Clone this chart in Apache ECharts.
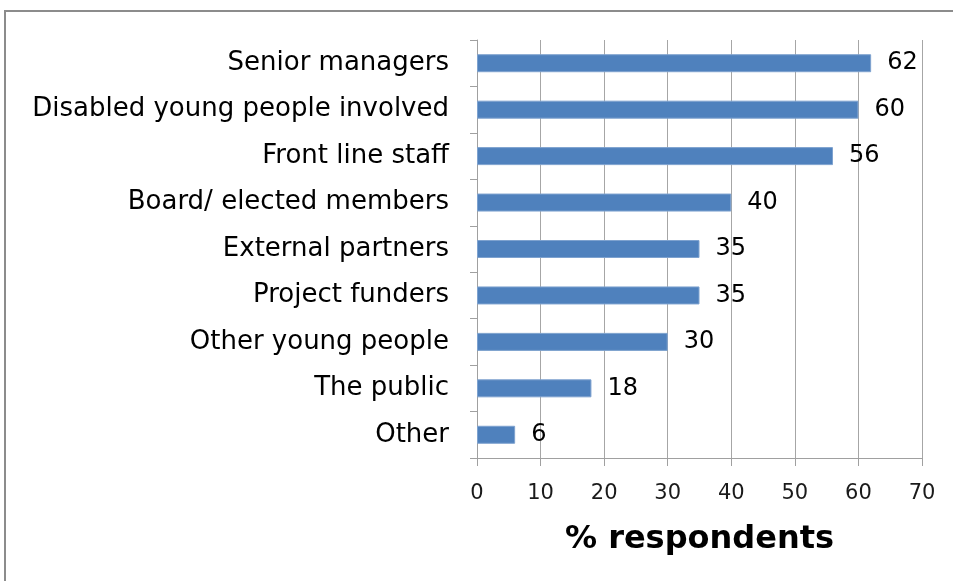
<!DOCTYPE html>
<html>
<head>
<meta charset="utf-8">
<script src="https://cdn.jsdelivr.net/npm/echarts@6/dist/echarts.min.js"></script>
<style>
  html, body { margin: 0; padding: 0; background: #fff; }
  #frame { position: absolute; left: 4px; top: 10px; width: 960px; height: 600px; border: 2px solid #8c8c8c; box-sizing: border-box; }
  #chart { position: absolute; left: 0; top: 0; width: 953px; height: 581px; }
</style>
</head>
<body>
<div id="frame"></div>
<div id="chart"></div>
<script>
// Who the work is reported to, share of respondents (%)
const categories = [
  'Senior managers',
  'Disabled young people involved',
  'Front line staff',
  'Board/ elected members',
  'External partners',
  'Project funders',
  'Other young people',
  'The public',
  'Other'
];
const percentages = [62, 60, 56, 40, 35, 35, 30, 18, 6];
const xTicks = { min: 0, max: 70, step: 10 };

const font = 'DejaVu Sans, Verdana, sans-serif';
const chart = echarts.init(document.getElementById('chart'), null, { renderer: 'canvas' });

chart.setOption({
  animation: false,
  grid: { left: 477, right: 31, top: 40, bottom: 123, containLabel: false },
  xAxis: {
    type: 'value',
    min: xTicks.min,
    max: xTicks.max,
    interval: xTicks.step,
    position: 'bottom',
    axisLine: { show: true, lineStyle: { color: '#a0a0a0', width: 1 } },
    axisTick: { show: true, length: 8, lineStyle: { color: '#a0a0a0' } },
    splitLine: { show: true, lineStyle: { color: '#a6a6a6', width: 1 } },
    axisLabel: { color: '#1a1a1a', fontFamily: font, fontSize: 21, margin: 25 },
    name: '% respondents',
    nameLocation: 'middle',
    nameGap: 66,
    nameTextStyle: { color: '#000', fontFamily: font, fontWeight: 'bold', fontSize: 32 }
  },
  yAxis: {
    type: 'category',
    inverse: true,
    data: categories,
    axisLine: { show: true, lineStyle: { color: '#a0a0a0', width: 1 } },
    axisTick: { show: true, length: 7, inside: false, lineStyle: { color: '#a0a0a0' } },
    axisLabel: { color: '#000', fontFamily: font, fontSize: 26, margin: 28 },
    splitLine: { show: false }
  },
  series: [{
    type: 'bar',
    data: percentages,
    barWidth: 18,
    itemStyle: { color: '#4f81bd', borderColor: '#7ea2cf', borderWidth: 1 },
    label: {
      show: true,
      position: 'right',
      distance: 16,
      color: '#000',
      fontFamily: font,
      fontSize: 24
    }
  }]
});
</script>
</body>
</html>
